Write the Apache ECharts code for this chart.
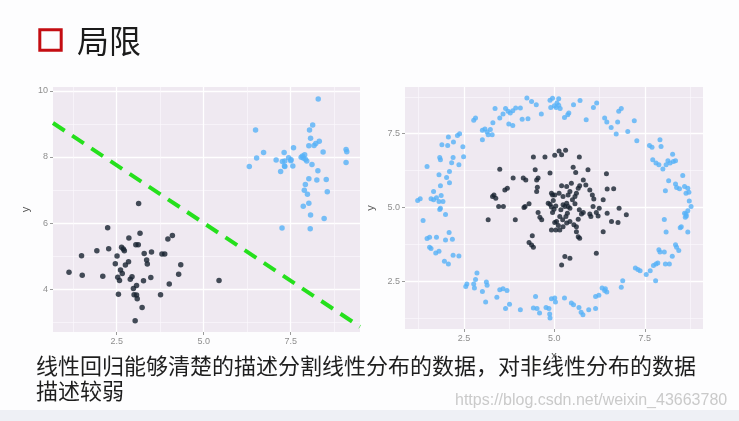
<!DOCTYPE html>
<html><head><meta charset="utf-8">
<script src="https://cdn.jsdelivr.net/npm/echarts@6/dist/echarts.min.js"></script>
<style>html,body{margin:0;padding:0;background:#fdfdfe}#c{width:739px;height:421px}</style>
</head><body><div id="c"></div><script>
// ---- data ----
const leftDark = [[1.13,4.51],[1.49,5.01],[1.51,4.42],[1.93,5.16],[2.10,4.39],[2.24,5.86],[2.27,5.22],[2.46,4.77],[2.51,5.00],[2.53,4.36],[2.55,3.84],[2.58,4.26],[2.64,5.27],[2.69,5.21],[2.72,5.16],[2.61,4.58],[2.66,4.47],[2.75,4.73],[2.84,4.83],[2.85,5.55],[2.89,4.30],[2.94,4.37],[2.98,4.02],[3.00,3.83],[3.03,3.04],[3.07,4.11],[3.07,3.82],[3.09,3.71],[3.05,5.34],[3.12,5.34],[3.13,6.59],[3.17,5.69],[3.23,3.44],[3.27,4.25],[3.29,5.08],[3.36,4.88],[3.38,4.76],[3.48,4.35],[3.50,5.12],[3.76,3.83],[3.80,5.06],[3.88,5.06],[3.97,5.52],[4.01,4.15],[4.10,5.62],[4.28,4.45],[4.34,4.74],[5.44,4.26]];
const leftBlue = [[6.31,7.71],[6.49,8.82],[6.52,7.97],[6.72,8.14],[7.08,7.91],[7.21,7.56],[7.26,7.86],[7.31,8.14],[7.33,7.88],[7.33,7.71],[7.25,5.85],[7.44,7.98],[7.50,7.89],[7.56,7.73],[7.58,8.28],[7.80,7.99],[7.84,8.03],[7.86,7.97],[7.90,8.07],[7.92,7.93],[7.96,7.88],[7.86,6.51],[7.89,6.99],[7.92,7.17],[7.98,6.87],[8.02,7.34],[8.02,6.60],[8.04,8.82],[8.02,8.34],[8.06,5.83],[8.07,8.57],[8.07,6.24],[8.11,7.77],[8.13,8.97],[8.17,8.35],[8.22,8.41],[8.25,7.30],[8.28,7.58],[8.29,9.76],[8.32,8.48],[8.43,8.15],[8.46,6.14],[8.52,7.32],[8.55,6.95],[9.09,8.23],[9.11,8.16],[9.09,7.83],[7.51,7.92],[7.32,7.73]];
const boundaryLine = [[0.67,9.03],[9.49,2.86]];
const rightDark = [[3.17,4.59],[3.49,6.30],[3.29,5.38],[3.33,5.43],[3.38,5.32],[3.46,5.04],[3.59,5.04],[3.63,5.60],[3.70,5.66],[3.86,6.00],[3.92,4.59],[4.14,6.00],[4.21,5.94],[4.19,5.04],[4.16,5.01],[4.42,6.71],[4.47,6.28],[4.51,5.94],[4.53,5.69],[4.51,5.55],[4.55,6.00],[4.30,3.82],[4.37,3.74],[4.42,3.66],[4.39,4.05],[4.30,5.13],[4.55,4.84],[4.60,4.68],[4.65,4.59],[4.74,6.71],[4.88,6.17],[4.92,5.49],[4.95,5.43],[5.01,5.43],[5.01,6.77],[5.13,6.92],[5.20,6.79],[5.31,6.94],[5.69,6.71],[4.88,5.12],[4.92,5.02],[4.99,4.95],[5.04,5.06],[4.97,5.24],[4.83,5.15],[4.95,4.84],[4.92,4.25],[5.04,4.25],[5.06,4.53],[5.15,4.70],[5.18,4.93],[5.24,5.10],[5.29,5.04],[5.34,5.15],[5.38,5.04],[5.43,4.98],[5.36,4.81],[5.32,4.70],[5.23,4.59],[5.11,4.40],[5.01,4.50],[5.24,4.36],[5.34,4.48],[5.43,4.53],[5.54,4.42],[5.61,4.36],[5.66,4.61],[5.75,4.79],[5.80,4.84],[5.69,4.93],[5.57,5.13],[5.50,5.27],[5.57,5.38],[5.61,5.49],[5.66,5.66],[5.70,5.74],[5.52,6.37],[5.59,6.19],[5.47,5.83],[5.20,5.74],[5.13,5.49],[5.24,5.38],[5.38,5.43],[5.43,5.55],[5.34,5.72],[5.80,5.94],[5.87,5.77],[5.98,5.60],[6.05,5.43],[6.09,5.29],[6.07,5.04],[6.16,4.84],[6.21,4.72],[6.24,4.98],[6.35,5.27],[6.46,4.81],[6.46,5.63],[6.64,5.64],[6.76,4.50],[6.58,4.53],[6.79,4.98],[6.99,4.76],[6.44,6.15],[6.35,4.19],[5.20,3.06],[5.29,3.35],[5.43,3.29],[5.61,4.19],[5.66,4.02],[5.70,3.97],[6.16,3.46],[5.15,4.25],[5.93,6.28],[5.98,4.79],[6.01,4.70]];
const rightBlue = [[4.24,8.71],[4.37,8.59],[4.50,8.48],[4.88,8.63],[4.90,8.39],[4.64,8.17],[4.06,8.37],[3.93,8.37],[3.85,8.28],[3.78,8.20],[3.72,8.26],[3.65,8.35],[3.36,8.35],[3.49,8.03],[3.58,8.17],[3.74,7.83],[3.85,7.78],[4.11,7.99],[4.27,8.01],[3.30,7.87],[3.23,7.64],[3.08,7.66],[3.01,7.62],[3.14,7.56],[3.17,7.47],[3.28,7.47],[3.01,7.30],[2.77,7.96],[2.82,8.03],[2.47,7.06],[2.49,6.72],[2.38,7.50],[2.32,7.44],[2.21,7.22],[2.07,7.39],[2.05,7.10],[1.89,7.13],[1.83,6.70],[1.85,6.62],[2.20,6.70],[2.16,6.52],[2.36,6.45],[2.10,6.22],[1.81,6.11],[2.02,6.02],[2.10,5.84],[1.85,5.74],[1.66,5.55],[1.87,5.41],[1.74,5.34],[1.66,5.27],[1.59,5.30],[1.81,5.21],[1.92,5.21],[1.29,5.30],[1.22,5.24],[1.48,6.39],[1.85,4.98],
[5.07,8.54],[5.12,8.46],[5.05,8.39],[5.16,8.35],[5.28,8.05],[5.37,8.14],[5.40,8.20],[5.53,8.48],[5.71,8.62],[5.88,7.97],[6.08,8.39],[6.17,8.54],[6.39,8.03],[6.45,7.90],[6.57,7.71],[6.71,7.49],[6.75,7.90],[6.78,8.26],[6.85,8.35],[7.03,7.58],[7.21,7.94],[7.28,7.26],[7.63,7.10],[7.70,7.04],[7.92,7.30],[7.95,7.07],[7.72,6.62],[7.81,6.51],[7.89,6.45],[8.00,6.31],[8.09,6.45],[8.14,6.59],[8.20,6.51],[8.27,6.81],[8.29,6.56],[8.35,6.59],[8.55,6.09],[8.16,5.91],[8.35,5.80],[8.38,5.68],[8.46,5.64],[8.60,5.72],[8.69,5.66],[8.72,5.52],[8.64,5.49],[8.07,5.57],[8.73,5.23],[8.78,5.04],[4.95,8.70],[5.00,8.45],[5.12,8.68],
[1.83,4.94],[1.99,4.77],[1.37,4.57],[1.48,3.96],[1.55,4.00],[1.74,4.00],[1.99,3.91],[2.09,4.16],[2.18,3.93],[1.55,3.66],[1.59,3.62],[1.72,3.47],[1.81,3.53],[2.20,3.39],[2.36,3.37],[1.96,3.19],[2.07,3.10],[2.86,2.79],[2.82,2.57],[2.77,2.42],[2.55,2.34],[2.58,2.42],[2.79,2.29],[3.12,2.49],[3.14,2.38],[3.01,2.17],[3.49,2.23],[3.58,2.26],[3.69,2.20],[3.41,1.97],[3.10,1.81],[3.76,1.74],[3.65,1.59],[4.06,1.55],[4.48,2.00],[4.42,1.61],[4.52,1.59],[4.59,1.44],[4.77,1.63],[4.85,1.59],[4.87,1.41],[4.88,1.27],[4.92,1.92],
[5.01,1.95],[5.03,1.81],[5.28,1.95],[5.47,1.78],[5.53,1.72],[5.68,1.63],[5.74,1.47],[5.79,1.38],[5.95,1.55],[6.14,1.59],[6.14,2.00],[6.23,2.04],[6.32,2.29],[6.39,2.20],[6.45,2.15],[6.41,2.26],[6.85,2.31],[6.89,2.53],[7.24,2.96],[7.31,2.91],[7.37,2.87],[7.54,2.74],[7.65,2.87],[7.74,3.05],[7.81,3.10],[7.86,3.13],[7.80,2.53],[7.89,3.58],[7.92,3.50],[8.04,3.50],[8.07,3.10],[8.18,3.10],[8.26,3.36],[8.35,3.75],[8.38,3.66],[8.44,3.55],[8.04,4.60],[8.09,4.18],[8.48,4.32],[8.69,4.18],[8.62,4.68],[8.64,4.79],[8.69,4.90],[8.60,4.81],[8.65,4.72],[8.51,4.36]];
const leftXTicks = [2.5, 5.0, 7.5];
const leftYTicks = [4, 6, 8, 10];
const leftXMinor = [1.25, 3.75, 6.25, 8.75];
const leftYMinor = [3, 5, 7, 9];
const rightXTicks = [2.5, 5.0, 7.5];
const rightYTicks = [2.5, 5.0, 7.5];
const rightXMinor = [1.25, 3.75, 6.25, 8.75];
const rightYMinor = [1.25, 3.75, 6.25, 8.75];
const titleText = '局限';
const bodyLine1 = '线性回归能够清楚的描述分割线性分布的数据，对非线性分布的数据';
const bodyLine2 = '描述较弱';
const watermark = 'https://blog.csdn.net/weixin_43663780';

// ---- chart ----
const DARK = '#16222f', BLUE = '#56b1f7';
function mainAxis(gridIndex, min, max, ticks, dec, name, nameGap, isY) {
  return {
    type: 'value', gridIndex, min, max, position: isY ? 'left' : 'bottom',
    axisLine: { show: false },
    axisTick: { show: true, customValues: ticks, length: 3, lineStyle: { color: '#9b9b9b', width: 1 } },
    axisLabel: { customValues: ticks, color: '#8e8e8e', fontSize: 9, margin: 5,
      fontFamily: 'Liberation Sans, Arial', formatter: v => dec ? Number(v).toFixed(1) : String(v) },
    splitLine: { show: true, lineStyle: { color: '#ffffff', width: 1.3 } },
    name: name, nameLocation: 'middle', nameGap: nameGap,
    nameTextStyle: { color: '#555', fontSize: 11, fontFamily: 'Liberation Sans, Arial' },
    nameRotate: isY ? 90 : 0
  };
}
function minorAxis(gridIndex, min, max, ticks, pos) {
  return {
    type: 'value', gridIndex, min, max, position: pos,
    axisLine: { show: false },
    axisTick: { show: false, customValues: ticks },
    axisLabel: { show: false, customValues: ticks },
    splitLine: { show: true, lineStyle: { color: '#fbf8fc', width: 0.7 } }
  };
}
const chart = echarts.init(document.getElementById('c'), null, { renderer: 'canvas' });
chart.setOption({
  backgroundColor: '#fdfdfe',
  animation: false,
  grid: [
    { left: 53, top: 87, width: 307, height: 245, show: true, backgroundColor: '#efe9f1', borderWidth: 0 },
    { left: 405, top: 87, width: 298, height: 242, show: true, backgroundColor: '#efe9f1', borderWidth: 0 }
  ],
  xAxis: [
    minorAxis(0, 0.67, 9.49, leftXMinor, 'top'),
    mainAxis(0, 0.67, 9.49, leftXTicks, true, '', 20, false),
    minorAxis(1, 0.87, 9.11, rightXMinor, 'top'),
    mainAxis(1, 0.87, 9.11, rightXTicks, true, 'x', 21, false)
  ],
  yAxis: [
    minorAxis(0, 2.7, 10.12, leftYMinor, 'right'),
    mainAxis(0, 2.7, 10.12, leftYTicks, false, 'y', 22, true),
    minorAxis(1, 0.9, 9.08, rightYMinor, 'right'),
    mainAxis(1, 0.9, 9.08, rightYTicks, true, 'y', 29, true)
  ],
  series: [
    { type: 'line', xAxisIndex: 1, yAxisIndex: 1, data: boundaryLine, symbol: 'none', z: 3,
      lineStyle: { color: '#25e01c', width: 4, type: [14, 9], cap: 'butt' } },
    { type: 'scatter', xAxisIndex: 1, yAxisIndex: 1, data: leftDark, symbolSize: 5.5, z: 4,
      itemStyle: { color: DARK } },
    { type: 'scatter', xAxisIndex: 1, yAxisIndex: 1, data: leftBlue, symbolSize: 5.5, z: 4,
      itemStyle: { color: BLUE } },
    { type: 'scatter', xAxisIndex: 3, yAxisIndex: 3, data: rightDark, symbolSize: 5, z: 4,
      itemStyle: { color: DARK } },
    { type: 'scatter', xAxisIndex: 3, yAxisIndex: 3, data: rightBlue, symbolSize: 5, z: 4,
      itemStyle: { color: BLUE } }
  ],
  graphic: [
    { type: 'rect', shape: { x: 39.8, y: 29.8, width: 21.4, height: 20.4 },
      style: { fill: 'transparent', stroke: '#c40d12', lineWidth: 3 } },
    { type: 'text', x: 77, y: 41, style: { text: titleText, fill: '#1b1b1b',
      font: '32px "Noto Sans CJK SC"', verticalAlign: 'middle' } },
    { type: 'text', x: 36, y: 366, z: 10, style: { text: bodyLine1, fill: '#1e1e1e',
      font: '22px "Noto Sans CJK SC"', verticalAlign: 'middle' } },
    { type: 'text', x: 36, y: 391, z: 10, style: { text: bodyLine2, fill: '#1e1e1e',
      font: '22px "Noto Sans CJK SC"', verticalAlign: 'middle' } },
    { type: 'rect', shape: { x: 0, y: 410, width: 739, height: 11 }, style: { fill: '#eef0f5' } },
    { type: 'text', x: 455, y: 401, z: 10, style: { text: watermark, fill: '#cacaca',
      font: '16px "Liberation Sans", Arial', verticalAlign: 'middle' } }
  ]
});
</script></body></html>
